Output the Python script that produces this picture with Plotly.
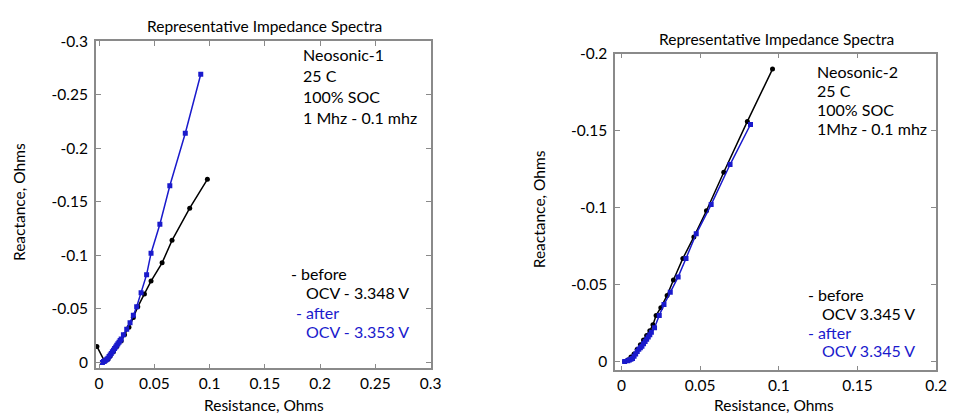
import plotly.graph_objects as go

# ---- data: Neosonic-1 ----
n1_before_r = [-0.002, 0.005, 0.008, 0.010, 0.013, 0.016, 0.020, 0.023, 0.027, 0.031, 0.035, 0.041, 0.047, 0.057, 0.066, 0.082, 0.098]
n1_before_x = [-0.015, -0.001, -0.003, -0.006, -0.010, -0.015, -0.020, -0.026, -0.033, -0.042, -0.052, -0.064, -0.076, -0.093, -0.114, -0.144, -0.171]
n1_after_r = [0.003, 0.004, 0.005, 0.006, 0.007, 0.008, 0.009, 0.010, 0.011, 0.012, 0.013, 0.014, 0.015, 0.016, 0.017, 0.018, 0.019, 0.020, 0.022, 0.025, 0.028, 0.031, 0.034, 0.038, 0.043, 0.047, 0.055, 0.064, 0.078, 0.092]
n1_after_x = [0.000, -0.001, -0.0015, -0.002, -0.003, -0.004, -0.0055, -0.007, -0.0085, -0.010, -0.0115, -0.013, -0.0145, -0.016, -0.0175, -0.019, -0.0205, -0.022, -0.026, -0.031, -0.037, -0.044, -0.052, -0.065, -0.082, -0.102, -0.129, -0.165, -0.214, -0.269]

# ---- data: Neosonic-2 ----
n2_before_r = [0.002, 0.004, 0.006, 0.008, 0.010, 0.012, 0.014, 0.016, 0.018, 0.020, 0.022, 0.025, 0.029, 0.033, 0.039, 0.046, 0.054, 0.065, 0.080, 0.096]
n2_before_x = [0.000, -0.001, -0.003, -0.005, -0.008, -0.011, -0.014, -0.017, -0.020, -0.024, -0.030, -0.035, -0.043, -0.053, -0.067, -0.081, -0.098, -0.123, -0.156, -0.190]
n2_after_r = [0.002, 0.004, 0.005, 0.006, 0.007, 0.008, 0.009, 0.010, 0.011, 0.012, 0.013, 0.014, 0.015, 0.016, 0.017, 0.018, 0.019, 0.021, 0.024, 0.027, 0.031, 0.036, 0.041, 0.0475, 0.057, 0.069, 0.082]
n2_after_x = [0.000, -0.0005, -0.001, -0.0015, -0.002, -0.0035, -0.005, -0.0065, -0.008, -0.009, -0.010, -0.0115, -0.013, -0.0145, -0.016, -0.0175, -0.019, -0.022, -0.030, -0.037, -0.045, -0.055, -0.067, -0.083, -0.102, -0.128, -0.154]

x1_ticks = [0, 0.05, 0.1, 0.15, 0.2, 0.25, 0.3]
x1_labels = ["0", "0.05", "0.1", "0.15", "0.2", "0.25", "0.3"]
y1_ticks = [0, -0.05, -0.1, -0.15, -0.2, -0.25, -0.3]
y1_labels = ["0", "-0.05", "-0.1", "-0.15", "-0.2", "-0.25", "-0.3"]
x2_ticks = [0, 0.05, 0.1, 0.15, 0.2]
x2_labels = ["0", "0.05", "0.1", "0.15", "0.2"]
y2_ticks = [0, -0.05, -0.1, -0.15, -0.2]
y2_labels = ["0", "-0.05", "-0.1", "-0.15", "-0.2"]

BLUE = "#1a1acc"
FONT = "Lato"

fig = go.Figure()
fig.add_trace(go.Scatter(x=n1_before_r, y=n1_before_x, mode="lines+markers",
                         line=dict(color="black", width=1.5), marker=dict(symbol="circle", size=5, color="black"),
                         xaxis="x", yaxis="y"))
fig.add_trace(go.Scatter(x=n1_after_r, y=n1_after_x, mode="lines+markers",
                         line=dict(color=BLUE, width=1.5), marker=dict(symbol="square", size=5, color=BLUE),
                         xaxis="x", yaxis="y"))
fig.add_trace(go.Scatter(x=n2_before_r, y=n2_before_x, mode="lines+markers",
                         line=dict(color="black", width=1.5), marker=dict(symbol="circle", size=5, color="black"),
                         xaxis="x2", yaxis="y2"))
fig.add_trace(go.Scatter(x=n2_after_r, y=n2_after_x, mode="lines+markers",
                         line=dict(color=BLUE, width=1.5), marker=dict(symbol="square", size=5, color=BLUE),
                         xaxis="x2", yaxis="y2"))

axis_common = dict(showgrid=False, zeroline=False, showline=True, linecolor="#8a8a8a", linewidth=1.5,
                   mirror="ticks", ticks="inside", ticklen=5, tickcolor="#8a8a8a", tickwidth=1,
                   tickfont=dict(family=FONT, size=15.5, color="black"))

W, H = 958, 418
def dx(a, b):
    return [a / W, b / W]
def dy(top, bottom):
    return [1 - bottom / H, 1 - top / H]

fig.update_layout(
    width=W, height=H, margin=dict(l=0, r=0, t=0, b=0),
    paper_bgcolor="white", plot_bgcolor="white", showlegend=False,
    font=dict(family=FONT, color="black"),
    xaxis=dict(domain=dx(96, 435), range=[-0.003, 0.3], tickvals=x1_ticks, ticktext=x1_labels, anchor="y", **axis_common),
    yaxis=dict(domain=dy(32, 369), range=[0.0055, -0.3], tickvals=y1_ticks, ticktext=y1_labels, anchor="x",
               ticklabelstandoff=3, **axis_common),
    xaxis2=dict(domain=dx(622, 947), range=[-0.004, 0.2], tickvals=x2_ticks, ticktext=x2_labels, anchor="y2", **axis_common),
    yaxis2=dict(domain=dy(45, 371), range=[0.0057, -0.2], tickvals=y2_ticks, ticktext=y2_labels, anchor="x2",
                ticklabelstandoff=3, **axis_common),
)

def ann(x, y, text, size=16, color="black", xanchor="left", angle=0):
    fig.add_annotation(x=x / W, y=1 - y / H, xref="paper", yref="paper", text=text, showarrow=False,
                       xanchor=xanchor, yanchor="middle", textangle=angle,
                       font=dict(family=FONT, size=size, color=color))

# titles and axis labels
ann(267, 16, "Representative Impedance Spectra", 15.5, xanchor="center")
ann(785, 30, "Representative Impedance Spectra", 15.5, xanchor="center")
ann(266, 407, "Resistance, Ohms", 15.5, xanchor="center")
ann(783, 407, "Resistance, Ohms", 15.5, xanchor="center")
ann(19, 198, "Reactance, Ohms", 15.5, xanchor="center", angle=-90)
ann(545, 205, "Reactance, Ohms", 15.5, xanchor="center", angle=-90)

# info text, left
for i, t in enumerate(["Neosonic-1", "25 C", "100% SOC", "1 Mhz - 0.1 mhz"]):
    ann(304, 46 + i * 21.7, t)
ann(292, 271, "- before")
ann(307, 291, "OCV - 3.348 V")
ann(297, 311, "- after", color=BLUE)
ann(307, 331, "OCV - 3.353 V", color=BLUE)

# info text, right
for i, t in enumerate(["Neosonic-2", "25 C", "100% SOC", "1Mhz - 0.1 mhz"]):
    ann(824, 63 + i * 19.7, t)
ann(815, 293, "- before")
ann(829, 312, "OCV 3.345 V")
ann(815, 332, "- after", color=BLUE)
ann(829, 351, "OCV 3.345 V", color=BLUE)

fig.write_html("out.html")
